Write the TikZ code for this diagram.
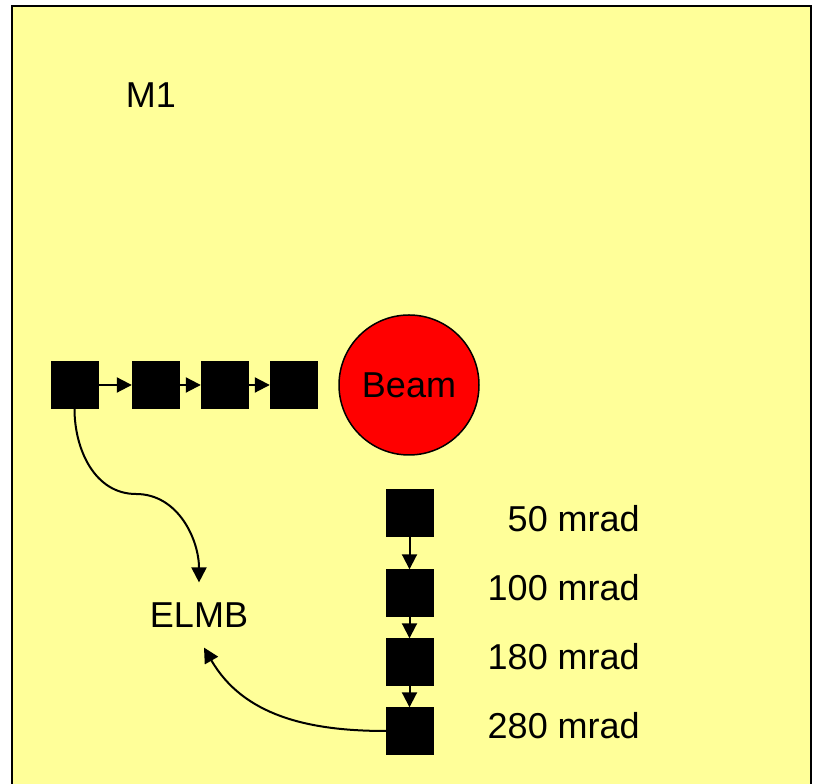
\documentclass[tikz,border=0pt]{standalone}
\usepackage{fontspec}
\setmainfont{Liberation Sans}
\usetikzlibrary{arrows.meta, positioning}
\definecolor{panelyellow}{RGB}{255, 255, 153}
\definecolor{beamred}{RGB}{255, 0, 0}

\begin{document}
\begin{tikzpicture}[x=1pt, y=1pt,
    sensor/.style={fill=black, draw=black, minimum size=47pt, inner sep=0pt},
    link/.style={line width=2pt, -{Triangle[length=15pt, width=15pt]}},
    lbl/.style={font=\fontsize{36}{42}\selectfont, inner sep=0pt}]
    \useasboundingbox (0,0) rectangle (814,784);
    \clip (0,0) rectangle (814,784);
    \fill[white] (0,0) rectangle (814,784);
    % panel
    \draw[fill=panelyellow, line width=2pt] (12,-20) rectangle (811,778);
    \node[lbl] (m1) at (151,689) {M1};

    % horizontal chain
    \node[sensor] (h1) at (74.5,399) {};
    \node[sensor] (h2) at (155.5,399) {};
    \node[sensor] (h3) at (224.5,399) {};
    \node[sensor] (h4) at (293.5,399) {};
    \node[circle, fill=beamred, draw=black, line width=1.5pt, minimum size=140pt,
          font=\fontsize{36}{42}\selectfont, inner sep=0pt] (beam) at (409,399) {Beam};
    \draw[link] (h1) -- (h2);
    \draw[link] (h2) -- (h3);
    \draw[link] (h3) -- (h4);

    % vertical chain
    \node[sensor] (v1) at (409.5,271.5) {};
    \node[sensor] (v2) at (409.5,191) {};
    \node[sensor] (v3) at (409.5,122) {};
    \node[sensor] (v4) at (409.5,53) {};
    \draw[link] (v1) -- (v2);
    \draw[link] (v2) -- (v3);
    \draw[link] (v3) -- (v4);
    \node[lbl, anchor=east] (l50) at (640,265) {50 mrad};
    \node[lbl, anchor=east] (l100) at (640,196) {100 mrad};
    \node[lbl, anchor=east] (l180) at (640,127) {180 mrad};
    \node[lbl, anchor=east] (l280) at (640,58) {280 mrad};

    % readout
    \node[lbl, inner sep=20pt] (elmb) at (199,169) {ELMB};
    \coordinate (bend) at (136,290);
    \draw[link] (h1.south) to[out=-90, in=180] (bend) to[out=0, in=90] (elmb.north);
    \draw[link] (v4.west) to[out=180, in=-60] ([xshift=5pt]elmb.south);
\end{tikzpicture}
\end{document}
